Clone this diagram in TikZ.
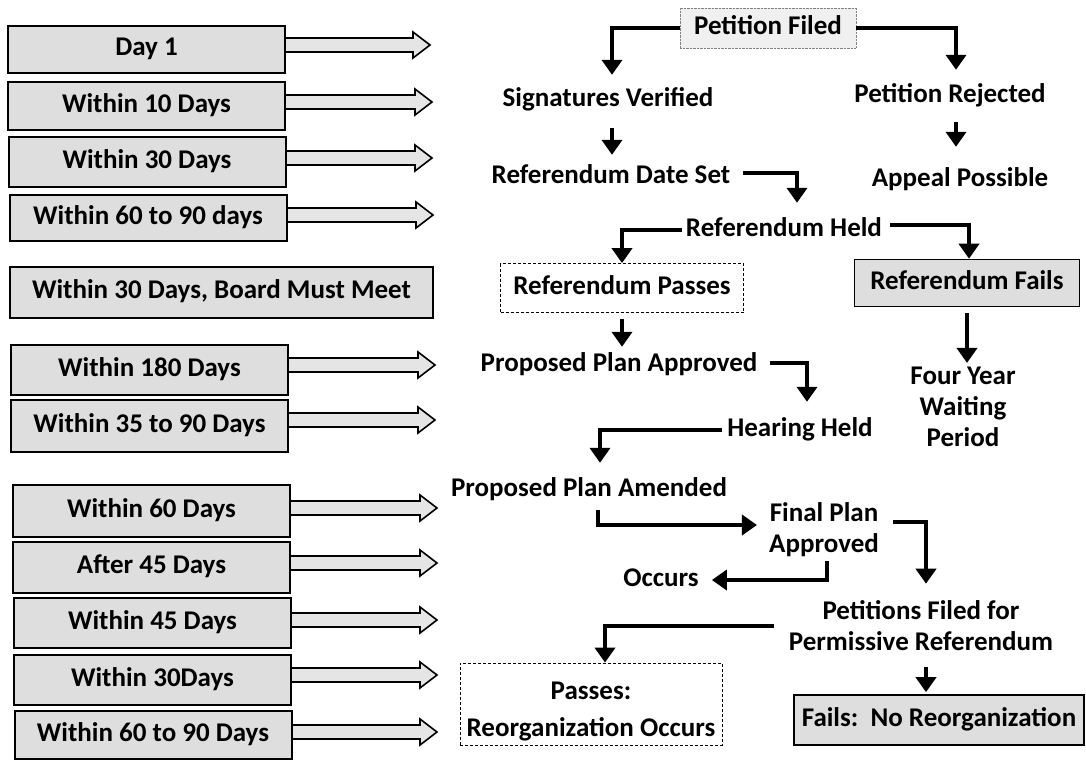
\documentclass[tikz,border=0pt]{standalone}
\usepackage{fontspec}
\setmainfont{Carlito}
\usetikzlibrary{arrows.meta,calc,backgrounds}
\newcommand\fs{\fontsize{27}{31}\selectfont\bfseries}
\newcommand\fsp{\fontsize{27}{37}\selectfont\bfseries}
\tikzset{
 x=1pt,y=-1pt,
 lbox/.style={draw, line width=2pt, fill=black!13, minimum width=277pt, minimum height=48pt, inner sep=0pt, font=\fs, text height=18pt, text depth=6pt},
 txt/.style={inner sep=0pt, font=\fs, text height=18pt, text depth=6pt},
 mtxt/.style={inner sep=0pt, font=\fs, align=center},
 harr/.style={draw, line width=1.6pt, fill=black!10, line join=miter},
 conn/.style={line width=4.5pt, -{Triangle[width=20pt,length=15pt]}},
}
\newcommand\harrow[2]{\draw[harr] ($(#1.east|-#2)+(0,-7)$) -- ($(#2)+(-17,-7)$) -- ($(#2)+(-17,-13)$) -- (#2) -- ($(#2)+(-17,13)$) -- ($(#2)+(-17,7)$) -- ($(#1.east|-#2)+(0,7)$);}
\begin{document}
\begin{tikzpicture}
\useasboundingbox (0,0) rectangle (1086,761);
% left column
\node[lbox, minimum height=47pt] (b1) at (146.5,49.5) {Day 1};
\node[lbox] (b2) at (146.5,106) {Within 10 Days};
\node[lbox, minimum height=50pt] (b3) at (147,162) {Within 30 Days};
\node[lbox, minimum height=46pt] (b4) at (148,218) {Within 60 to 90 days};
\node[lbox, minimum width=423pt, minimum height=51pt] (b5) at (221.5,292.5) {Within 30 Days, Board Must Meet};
\node[lbox, minimum height=50pt] (b6) at (149.5,370) {Within 180 Days};
\node[lbox, minimum height=52pt] (b7) at (149.5,426) {Within 35 to 90 Days};
\node[lbox, minimum height=52pt] (b8) at (151.5,511) {Within 60 Days};
\node[lbox, minimum height=51pt] (b9) at (151.5,567.5) {After 45 Days};
\node[lbox, minimum height=50pt] (b10) at (152.5,623) {Within 45 Days};
\node[lbox, minimum height=50pt] (b11) at (152.5,680) {Within 30Days};
\node[lbox, minimum height=48pt] (b12) at (153,735) {Within 60 to 90 Days};
\coordinate (t1) at (430,45);
\coordinate (t2) at (432,102);
\coordinate (t3) at (432,158);
\coordinate (t4) at (433,215);
\coordinate (t6) at (435,365);
\coordinate (t7) at (435,420);
\coordinate (t8) at (437,508);
\coordinate (t9) at (437,563);
\coordinate (t10) at (437,620);
\coordinate (t11) at (437,675);
\coordinate (t12) at (437,732);
\begin{pgfonlayer}{background}
\fill[white] (0,0) rectangle (1086,761);
\harrow{b1}{t1}\harrow{b2}{t2}\harrow{b3}{t3}\harrow{b4}{t4}
\harrow{b6}{t6}\harrow{b7}{t7}\harrow{b8}{t8}\harrow{b9}{t9}
\harrow{b10}{t10}\harrow{b11}{t11}\harrow{b12}{t12}
\end{pgfonlayer}
% flow chart
\node[txt, draw=black!50, densely dotted, fill=black!6, minimum width=176pt, minimum height=40pt] (pf) at (768,28) {Petition Filed};
\node[txt] (sv) at (608,100) {Signatures Verified};
\node[txt] (pr) at (950,96) {Petition Rejected};
\node[txt] (rds) at (611,177) {Referendum Date Set};
\node[txt] (ap) at (960,180) {Appeal Possible};
\node[txt] (rh) at (784,230) {Referendum Held};
\node[txt, draw, densely dashed, line width=0.8pt, minimum width=243pt, minimum height=49pt] (rp) at (622,288) {Referendum Passes};
\node[txt, draw, line width=1.6pt, fill=black!13, minimum width=225pt, minimum height=47pt] (rf) at (967,283) {Referendum Fails};
\node[txt] (ppa) at (619,365) {Proposed Plan Approved};
\node[mtxt] (fy) at (963,407) {Four Year\\Waiting\\Period};
\node[txt] (hh) at (800,430) {Hearing Held};
\node[txt] (ppam) at (589,490) {Proposed Plan Amended};
\node[mtxt] (fpa) at (824,530) {Final Plan\\Approved};
\node[txt] (oc) at (661,580) {Occurs};
\node[mtxt] (pffr) at (921,626) {Petitions Filed for\\Permissive Referendum};
\node[mtxt, font=\fsp, draw, densely dashed, line width=0.8pt, minimum width=262pt, minimum height=82pt] (pass) at (591,704) {\rule{0pt}{32pt}Passes:\\Reorganization Occurs};
\node[txt, draw, line width=1.6pt, fill=black!13, minimum width=290pt, minimum height=50pt] (fnr) at (939,720) {Fails:\ \ No Reorganization};
% connectors
\draw[conn, shorten >=13pt] (pf.west) -| ([xshift=4pt]sv.north);
\draw[conn, shorten >=14pt] (pf.east) -| ([xshift=6pt]pr.north);
\draw[conn, shorten <=16pt, shorten >=10pt] ([xshift=4pt]sv.south) -- ([xshift=4pt]sv.south |- rds.north);
\draw[conn, shorten <=14pt, shorten >=21pt] ([xshift=6pt]pr.south) -- ([xshift=6pt]pr.south |- ap.north);
\draw[conn, shorten <=12pt, shorten >=15pt] ([yshift=4pt]rds.east) -| ([xshift=13pt]rh.north);
\draw[conn, shorten <=4pt] (rh.west) -| (rp.north);
\draw[conn, shorten <=8pt] ([yshift=5pt]rh.east) -| ([xshift=2pt]rf.north);
\draw[conn, shorten <=6pt, shorten >=6pt] (rp.south) -- (rp.south |- ppa.north);
\draw[conn, shorten <=6pt, shorten >=4pt] (rf.south) -- (rf.south |- fy.north);
\draw[conn, shorten <=12pt, shorten >=16pt] ([yshift=2pt]ppa.east) -| ([xshift=7pt]hh.north);
\draw[conn, shorten <=5pt, shorten >=15pt] (hh.west) -| ([xshift=11pt]ppam.north);
\draw[conn, shorten <=8pt, shorten >=12pt] ([xshift=9pt]ppam.south) |- ([yshift=5pt]fpa.west);
\draw[conn, shorten <=4pt, shorten >=13pt] ([xshift=3pt]fpa.south) |- (oc.east);
\draw[conn, shorten <=14pt, shorten >=17pt] ([yshift=8pt]fpa.east) -| ([xshift=5pt]pffr.north);
\draw[conn, shorten <=15pt] (pffr.west) -| ([xshift=14pt]pass.north);
\draw[conn, shorten <=16pt, shorten >=2pt] ([xshift=5pt]pffr.south) -- ([xshift=5pt]pffr.south |- fnr.north);
\end{tikzpicture}
\end{document}
